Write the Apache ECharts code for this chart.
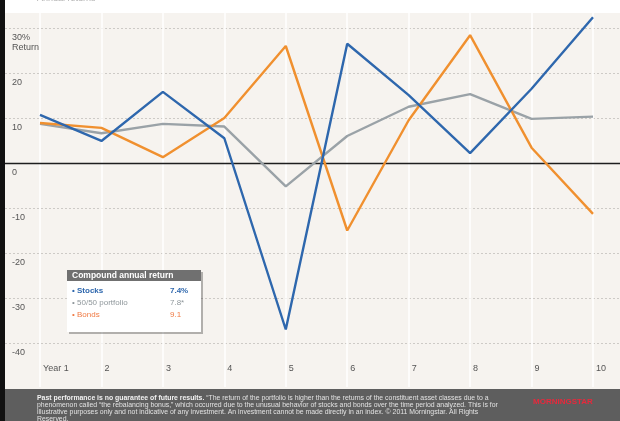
<!DOCTYPE html>
<html>
<head>
<meta charset="utf-8">
<script src="https://cdn.jsdelivr.net/npm/echarts@6/dist/echarts.min.js"></script>
<style>
  html, body { margin: 0; padding: 0; background: #ffffff; }
  #chart { width: 620px; height: 421px; }
</style>
</head>
<body>
<div id="chart"></div>
<script>
// Annual returns, years 1-10
const years = ['Year 1', '2', '3', '4', '5', '6', '7', '8', '9', '10'];
const stocks = [10.7, 4.9, 15.8, 5.5, -37.0, 26.5, 15.1, 2.2, 16.5, 32.4];
const portfolio = [8.7, 6.6, 8.7, 8.1, -5.2, 6.0, 12.5, 15.3, 9.8, 10.3];
const bonds = [8.9, 7.8, 1.3, 10.0, 26.0, -15.0, 9.5, 28.4, 3.4, -11.3];

// Value axis ticks
const yMin = -40;
const yMax = 30;
const yStep = 10;

// Compound annual return box
const compoundTitle = 'Compound annual return';
const compoundNames = ['Stocks', '50/50 portfolio', 'Bonds'];
const compoundValues = ['7.4%', '7.8*', '9.1'];

const footerLines = [
  '\u201CThe return of the portfolio is higher than the returns of the constituent asset classes due to a',
  'phenomenon called \u201Cthe rebalancing bonus,\u201D which occurred due to the unusual behavior of stocks and bonds over the time period analyzed. This is for',
  'illustrative purposes only and not indicative of any investment. An investment cannot be made directly in an index. \u00A9 2011 Morningstar. All Rights',
  'Reserved.'
];
const footerLead = 'Past performance is no guarantee of future results.';

const FONT = '"Liberation Sans", Arial, sans-serif';
const C_STOCKS = '#2e67ad';
const C_PORT = '#9aa2a7';
const C_BONDS = '#f0902f';

// layout of the plotting band
const W = 620, H = 421;
const plotTop = 28, plotBottom = 343;      // y of the 30 and -40 gridlines
const bandTop = 13, bandBottom = 387;      // beige band
const unit = (plotBottom - plotTop) / (yMax - yMin);
const extMax = yMax + (plotTop - bandTop) / unit;
const extMin = yMin - (bandBottom - plotBottom) / unit;

const chart = echarts.init(document.getElementById('chart'), null, { renderer: 'canvas' });

const rows = compoundNames.map((name, i) => {
  const colors = [C_STOCKS, '#8f979b', '#f07b45'];
  const y = 292 + i * 12;
  return [
    { type: 'text', left: 72, top: y - 5, z: 120,
      style: { text: '\u2022 ' + name, font: (i === 0 ? 'bold ' : '') + '8px ' + FONT, fill: colors[i] } },
    { type: 'text', left: 170, top: y - 5, z: 120,
      style: { text: compoundValues[i], font: (i === 0 ? 'bold ' : '') + '8px ' + FONT, fill: colors[i] } }
  ];
}).flat();

const option = {
  backgroundColor: '#f6f3ef',
  animation: false,
  textStyle: { fontFamily: FONT },
  grid: [
    { left: 40, right: W - 593, top: bandTop, bottom: H - bandBottom },
    { left: 5, right: 0, top: plotTop, bottom: H - plotBottom }
  ],
  xAxis: [
    {
      type: 'category', gridIndex: 0, data: years, boundaryGap: false,
      axisLine: { show: false }, axisTick: { show: false },
      axisLabel: { inside: true, margin: 14, interval: 0, align: 'left', padding: [0, 0, 0, 3],
                   color: '#555', fontSize: 9, fontFamily: FONT },
      splitLine: { show: true, lineStyle: { color: '#ffffff', width: 1.5 } }
    },
    {
      type: 'value', gridIndex: 1, min: 0, max: 1,
      axisLine: { show: true, onZero: true, lineStyle: { color: '#1e1e1e', width: 1.4 } },
      axisTick: { show: false }, axisLabel: { show: false }, splitLine: { show: false }
    }
  ],
  yAxis: [
    {
      type: 'value', gridIndex: 0, min: extMin, max: extMax,
      axisLine: { show: false }, axisTick: { show: false }, axisLabel: { show: false },
      splitLine: { show: false }
    },
    {
      type: 'value', gridIndex: 1, min: yMin, max: yMax, interval: yStep,
      axisLine: { show: false }, axisTick: { show: false },
      axisLabel: {
        inside: true, margin: 7, align: 'left', verticalAlign: 'top', padding: [5, 0, 0, 0],
        color: '#555', fontSize: 9, lineHeight: 10, fontFamily: FONT,
        formatter: v => (v === yMax ? v + '%\nReturn' : String(v))
      },
      splitLine: { show: true, lineStyle: { color: '#cdcac6', type: [2, 2], width: 1 } }
    }
  ],
  series: [
    { name: '50/50 portfolio', type: 'line', xAxisIndex: 0, yAxisIndex: 0, data: portfolio,
      symbol: 'none', lineStyle: { color: C_PORT, width: 2.4 }, z: 3 },
    { name: 'Bonds', type: 'line', xAxisIndex: 0, yAxisIndex: 0, data: bonds,
      symbol: 'none', lineStyle: { color: C_BONDS, width: 2.4 }, z: 4 },
    { name: 'Stocks', type: 'line', xAxisIndex: 0, yAxisIndex: 0, data: stocks,
      symbol: 'none', lineStyle: { color: C_STOCKS, width: 2.4 }, z: 5 }
  ],
  graphic: [
    // white strip above the band
    { type: 'rect', left: 0, top: 0, z: 100, shape: { width: W, height: bandTop }, style: { fill: '#ffffff' } },
    { type: 'text', left: 37, top: -6, z: 101, style: { text: 'Annual returns', font: '9px ' + FONT, fill: '#b0b0b0' } },
    // footer
    { type: 'rect', left: 0, top: 389, z: 100, shape: { width: W, height: H - 389 }, style: { fill: '#5e5e5e' } },
    { type: 'text', left: 37, top: 394, z: 101,
      style: {
        text: '{b|' + footerLead + '} ' + footerLines.join('\n'),
        rich: { b: { font: 'bold 6.9px ' + FONT, fill: '#f2f2f2' } },
        font: '6.9px ' + FONT, fill: '#e2e2e2', lineHeight: 7.2
      } },
    { type: 'text', left: 533, top: 398, z: 101,
      style: { text: 'MORNINGSTAR', font: 'bold 8px ' + FONT, fill: '#e8283c' } },
    // left edge
    { type: 'rect', left: 0, top: 0, z: 102, shape: { width: 5, height: H }, style: { fill: '#111111' } },
    // compound annual return box
    { type: 'rect', left: 69, top: 272, z: 110, shape: { width: 134, height: 62 }, style: { fill: 'rgba(0,0,0,0.28)' } },
    { type: 'rect', left: 67, top: 270, z: 111, shape: { width: 134, height: 62 }, style: { fill: '#ffffff' } },
    { type: 'rect', left: 67, top: 270, z: 112, shape: { width: 134, height: 11 }, style: { fill: '#707070' } },
    { type: 'text', left: 72, top: 271, z: 120, style: { text: compoundTitle, font: 'bold 8.5px ' + FONT, fill: '#ffffff' } }
  ].concat(rows)
};

chart.setOption(option);
</script>
</body>
</html>
